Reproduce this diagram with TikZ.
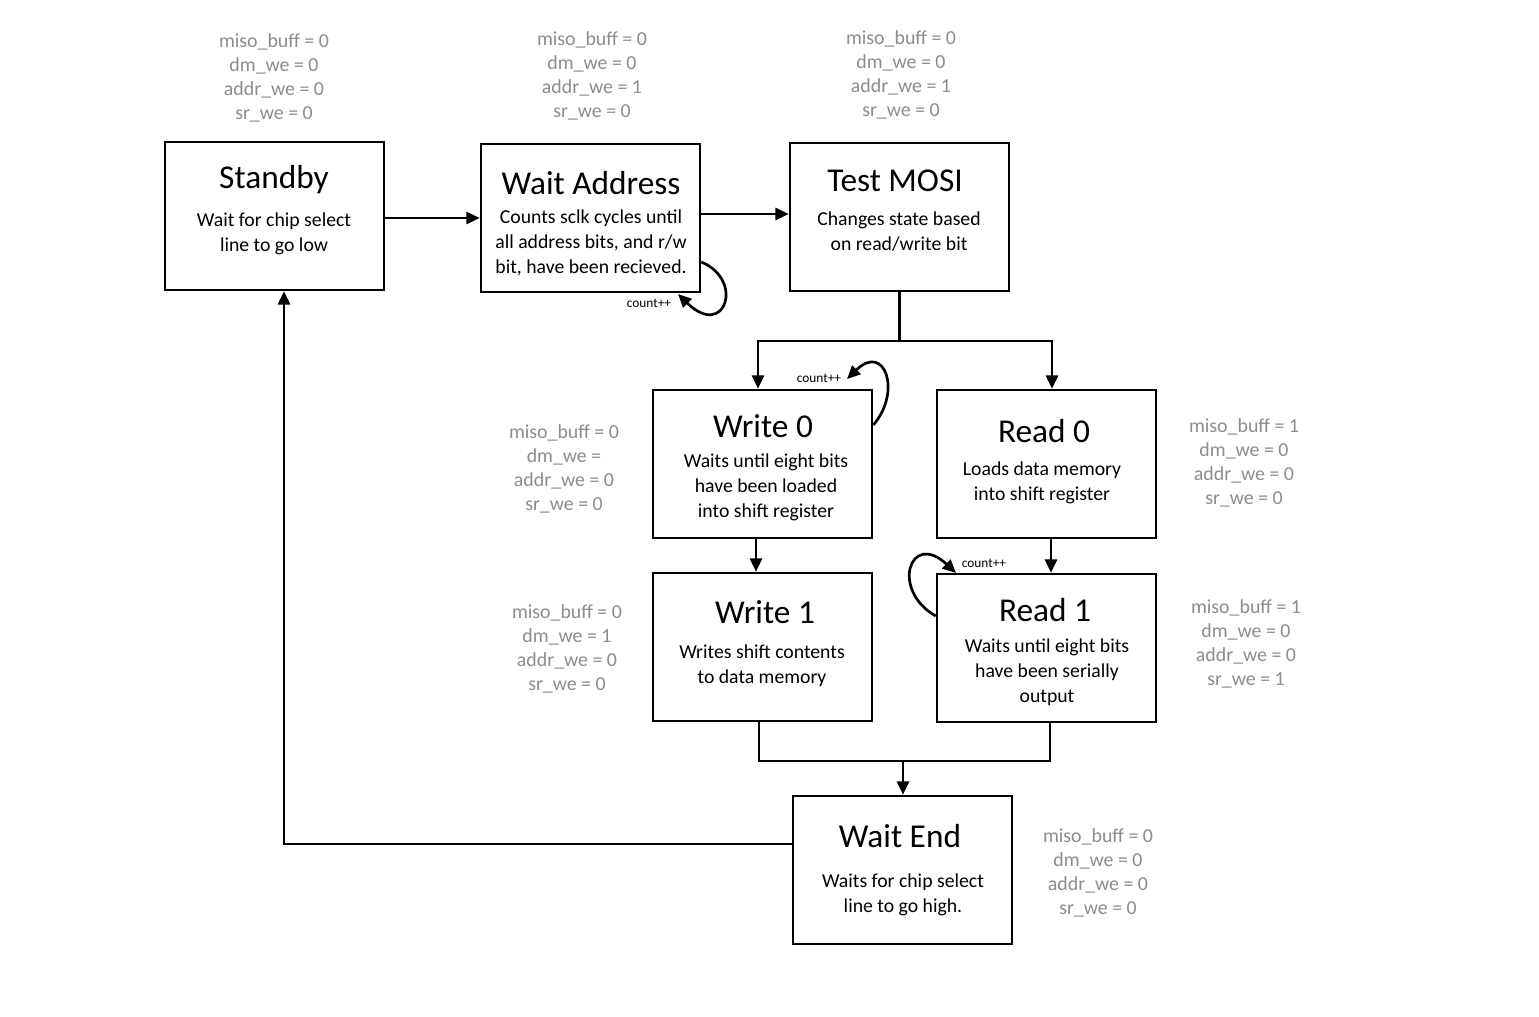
\documentclass[tikz,border=0pt]{standalone}
\usepackage{fontspec}
\setmainfont{Carlito}
\usetikzlibrary{arrows.meta}
\definecolor{lbl}{HTML}{8C8C8C}
\begin{document}
\begin{tikzpicture}[x=0.75pt,y=-0.75pt,
  box/.style={draw,line width=1.9pt,minimum width=219*0.75pt,minimum height=148*0.75pt,inner sep=0pt},
  ttl/.style={font=\fontsize{25}{28}\selectfont,inner sep=0pt,anchor=base},
  bdy/.style={font=\fontsize{14.8}{18.4}\selectfont,inner sep=0pt,align=center,anchor=north},
  sig/.style={font=\fontsize{14.9}{18.2}\selectfont,text=lbl,inner sep=0pt,align=center,anchor=north},
  cnt/.style={font=\fontsize{10}{11}\selectfont,inner sep=0pt},
  con/.style={line width=2pt,-{Triangle[length=10pt,width=9pt]}},
  ln/.style={line width=2pt}]
\useasboundingbox (0,0) rectangle (1539,1017);
% boxes
\node[box] (sb) at (274.5,216) {};
\node[box] (wa) at (590.5,218) {};
\node[box] (tm) at (899.5,217) {};
\node[box] (w0) at (762.5,464) {};
\node[box] (r0) at (1046.5,464) {};
\node[box] (w1) at (762.5,647) {};
\node[box] (r1) at (1046.5,648) {};
\node[box] (we) at (902.5,870) {};
% titles
\node[ttl] (sbt) at (274,188) {Standby};
\node[ttl] (wat) at (591,194) {Wait Address};
\node[ttl] (tmt) at (895,191) {Test MOSI};
\node[ttl] (w0t) at (763,437) {Write 0};
\node[ttl] (r0t) at (1044,442) {Read 0};
\node[ttl] (w1t) at (765,623) {Write 1};
\node[ttl] (r1t) at (1045,621) {Read 1};
\node[ttl] (wet) at (900,847) {Wait End};
% bodies
\node[bdy] (sbb) at (274,213) {Wait for chip select\\line to go low};
\node[bdy] (wab) at (591,210) {Counts sclk cycles until\\all address bits, and r/w\\bit, have been recieved.};
\node[bdy] (tmb) at (899,212) {Changes state based\\on read/write bit};
\node[bdy] (w0b) at (766,454) {Waits until eight bits\\have been loaded\\into shift register};
\node[bdy] (r0b) at (1042,462) {Loads data memory\\into shift register};
\node[bdy] (w1b) at (762,645) {Writes shift contents\\to data memory};
\node[bdy] (r1b) at (1047,639) {Waits until eight bits\\have been serially\\output};
\node[bdy] (web) at (903,874) {Waits for chip select\\line to go high.};
% signal labels
\node[sig] (sbs) at (274,33) {miso\_buff = 0\\dm\_we = 0\\addr\_we = 0\\sr\_we = 0};
\node[sig] (was) at (592,31) {miso\_buff = 0\\dm\_we = 0\\addr\_we = 1\\sr\_we = 0};
\node[sig] (tms) at (901,30) {miso\_buff = 0\\dm\_we = 0\\addr\_we = 1\\sr\_we = 0};
\node[sig] (w0s) at (564,424) {miso\_buff = 0\\dm\_we = \\addr\_we = 0\\sr\_we = 0};
\node[sig] (r0s) at (1244,418) {miso\_buff = 1\\dm\_we = 0\\addr\_we = 0\\sr\_we = 0};
\node[sig] (w1s) at (567,604) {miso\_buff = 0\\dm\_we = 1\\addr\_we = 0\\sr\_we = 0};
\node[sig] (r1s) at (1246,599) {miso\_buff = 1\\dm\_we = 0\\addr\_we = 0\\sr\_we = 1};
\node[sig] (wes) at (1098,828) {miso\_buff = 0\\dm\_we = 0\\addr\_we = 0\\sr\_we = 0};
% connectors
\draw[con] (sb.east |- 0,218) -- (wa.west |- 0,218);
\draw[con] (wa.east |- 0,214) -- (tm.west |- 0,214);
\coordinate (split) at (899.5,341);
\draw[ln] (tm.south) -- (split);
\draw[con] (split) -| (w0.north -| 758,0);
\draw[con] (split) -| (r0.north -| 1052,0);
\draw[con] (w0.south -| 756,0) -- (w1.north -| 756,0);
\draw[con] (r0.south -| 1051,0) -- (r1.north -| 1051,0);
\coordinate (join) at (903,761);
\draw[ln] (w1.south -| 759,0) |- (join);
\draw[ln] (r1.south -| 1050,0) |- (join);
\draw[con] (join) -- (we.north -| 903,0);
\draw[con] (we.west |- 0,844) -| (sb.south -| 284,0);
% self loops
\draw[con] (wa.east |- 0,262) .. controls (745,280) and (725,340) .. (678,294);
\node[cnt] (c1) at (649,303) {count++};
\draw[con] (w0.east |- 0,425) .. controls (902,392) and (885,342) .. (847,379);
\node[cnt] (c2) at (819,378) {count++};
\draw[con] (r1.west |- 0,616) .. controls (890,590) and (910,530) .. (956,573);
\node[cnt] (c3) at (984,563) {count++};
\end{tikzpicture}
\end{document}
